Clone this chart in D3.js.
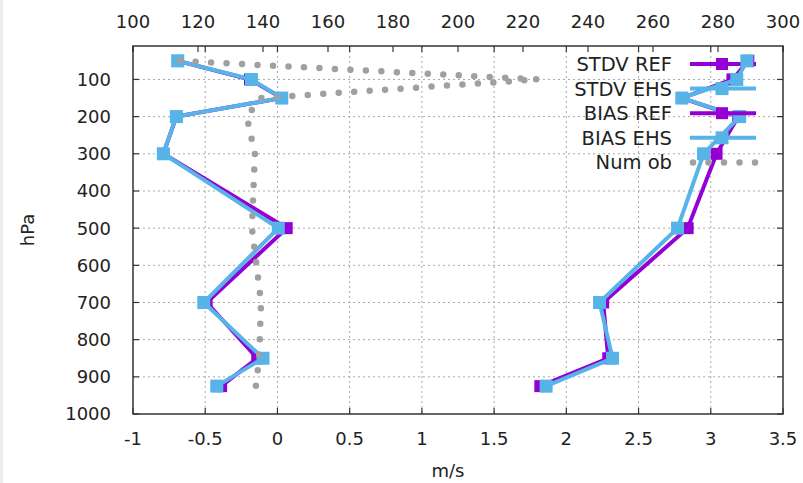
<!DOCTYPE html>
<html>
<head>
<meta charset="utf-8">
<script src="https://cdn.jsdelivr.net/npm/d3@7"></script>
<style>
  body { margin: 0; background: #fff; }
  svg { display: block; }
  text { font-family: "DejaVu Sans", sans-serif; fill: #222; }
</style>
</head>
<body>
<svg id="chart" width="803" height="483"></svg>
<script>
const levels = [50, 100, 150, 200, 300, 500, 700, 850, 925];
const stdvRef = [3.26, 3.15, 2.80, 3.19, 3.04, 2.84, 2.255, 2.29, 1.82];
const stdvEhs = [3.25, 3.18, 2.80, 3.20, 2.95, 2.77, 2.23, 2.32, 1.86];
const biasRef = [-0.69, -0.19, 0.03, -0.70, -0.79, 0.064, -0.49, -0.14, -0.39];
const biasEhs = [-0.69, -0.18, 0.03, -0.70, -0.79, 0.006, -0.51, -0.10, -0.42];
const numOb = [114.5, 224.6, 139.4, 135, 137.5, 136.6, 139.4, 138.8, 137.8];

const xTicks = [-1, -0.5, 0, 0.5, 1, 1.5, 2, 2.5, 3, 3.5];
const x2Ticks = [100, 120, 140, 160, 180, 200, 220, 240, 260, 280, 300];
const yTicks = [100, 200, 300, 400, 500, 600, 700, 800, 900, 1000];

const series = [
  { name: 'STDV REF', values: stdvRef, color: '#9400d3', size: 12 },
  { name: 'STDV EHS', values: stdvEhs, color: '#56b4e9', size: 13 },
  { name: 'BIAS REF', values: biasRef, color: '#9400d3', size: 12 },
  { name: 'BIAS EHS', values: biasEhs, color: '#56b4e9', size: 13 },
];

const svg = d3.select('#chart');
const W = 803, H = 483;
const margin = { top: 46, right: 20, bottom: 69, left: 133 };

svg.append('rect').attr('width', W).attr('height', H).attr('fill', '#fff');
svg.append('rect').attr('width', 3).attr('height', H).attr('fill', '#ebebeb');

const x = d3.scaleLinear().domain([-1, 3.5]).range([margin.left, W - margin.right]);
const x2 = d3.scaleLinear().domain([100, 300]).range([margin.left, W - margin.right]);
const y = d3.scaleLinear().domain([10, 1000]).range([margin.top, H - margin.bottom]);

const x0 = x.range()[0], x1 = x.range()[1];
const y0 = y.range()[0], y1 = y.range()[1];

// grid
const grid = svg.append('g')
  .attr('stroke', '#a8a8a8')
  .attr('stroke-width', 1)
  .attr('stroke-dasharray', '2,3');

grid.selectAll('line.gx')
  .data(xTicks.slice(1, -1))
  .join('line')
  .attr('x1', d => x(d)).attr('x2', d => x(d))
  .attr('y1', y0).attr('y2', y1);

grid.selectAll('line.gy')
  .data(yTicks.slice(0, -1))
  .join('line')
  .attr('class', 'gy')
  .attr('x1', x0).attr('x2', x1)
  .attr('y1', d => y(d)).attr('y2', d => y(d));

// tick marks (inward, mirrored)
const tickLen = 6;
const ticks = svg.append('g').attr('stroke', '#333').attr('stroke-width', 1.2);

xTicks.forEach(v => {
  ticks.append('line').attr('x1', x(v)).attr('x2', x(v)).attr('y1', y1).attr('y2', y1 - tickLen);
  ticks.append('line').attr('x1', x(v)).attr('x2', x(v)).attr('y1', y0).attr('y2', y0 + tickLen);
});
x2Ticks.forEach(v => {
  ticks.append('line').attr('x1', x2(v)).attr('x2', x2(v)).attr('y1', y0).attr('y2', y0 + tickLen);
});
yTicks.forEach(v => {
  ticks.append('line').attr('x1', x0).attr('x2', x0 + tickLen).attr('y1', y(v)).attr('y2', y(v));
  ticks.append('line').attr('x1', x1).attr('x2', x1 - tickLen).attr('y1', y(v)).attr('y2', y(v));
});

// tick labels
const fontSize = 18;
svg.append('g')
  .selectAll('text')
  .data(xTicks)
  .join('text')
  .attr('x', d => x(d))
  .attr('y', y1 + 31)
  .attr('text-anchor', 'middle')
  .attr('font-size', fontSize)
  .text(d => String(d));

svg.append('g')
  .selectAll('text')
  .data(x2Ticks)
  .join('text')
  .attr('x', d => x2(d))
  .attr('y', 28)
  .attr('text-anchor', 'middle')
  .attr('font-size', fontSize)
  .text(d => String(d));

svg.append('g')
  .selectAll('text')
  .data(yTicks)
  .join('text')
  .attr('x', x0 - 22)
  .attr('y', d => y(d))
  .attr('dy', '0.36em')
  .attr('text-anchor', 'end')
  .attr('font-size', fontSize)
  .text(d => String(d));

svg.append('text')
  .attr('transform', `translate(34,${(y0 + y1) / 2}) rotate(-90)`)
  .attr('text-anchor', 'middle')
  .attr('font-size', fontSize)
  .text('hPa');

svg.append('text')
  .attr('x', (x0 + x1) / 2 - 10)
  .attr('y', 477)
  .attr('text-anchor', 'middle')
  .attr('font-size', fontSize)
  .text('m/s');

// frame
svg.append('rect')
  .attr('x', x0).attr('y', y0)
  .attr('width', x1 - x0).attr('height', y1 - y0)
  .attr('fill', 'none')
  .attr('stroke', '#333')
  .attr('stroke-width', 1.5);

// series + key (gnuplot draws each key sample just before its curve)
const key = { textX: 672, x1: 690, x2: 756, y: 64, dy: 24.6 };
const line = d3.line().x(d => d[0]).y(d => d[1]);

series.forEach((s, i) => {
  const ky = key.y + i * key.dy;
  const g = svg.append('g');
  g.append('text')
    .attr('x', key.textX).attr('y', ky).attr('dy', '0.36em')
    .attr('text-anchor', 'end')
    .attr('font-size', 19.5)
    .text(s.name);
  g.append('line')
    .attr('x1', key.x1).attr('x2', key.x2).attr('y1', ky).attr('y2', ky)
    .attr('stroke', s.color).attr('stroke-width', 4);
  g.append('rect')
    .attr('x', (key.x1 + key.x2) / 2 - s.size / 2 - 1)
    .attr('y', ky - s.size / 2)
    .attr('width', s.size).attr('height', s.size)
    .attr('fill', s.color);

  const pts = levels.map((p, j) => [x(s.values[j]), y(p)]);
  g.append('path')
    .attr('d', line(pts))
    .attr('fill', 'none')
    .attr('stroke', s.color)
    .attr('stroke-width', 4)
    .attr('stroke-linejoin', 'miter');
  g.selectAll('rect.pt')
    .data(pts)
    .join('rect')
    .attr('class', 'pt')
    .attr('x', d => d[0] - s.size / 2)
    .attr('y', d => d[1] - s.size / 2)
    .attr('width', s.size).attr('height', s.size)
    .attr('fill', s.color);
});

// Num ob (dotted, on x2 axis)
const ky = key.y + 4 * key.dy;
const gn = svg.append('g');
gn.append('text')
  .attr('x', key.textX).attr('y', ky).attr('dy', '0.36em')
  .attr('text-anchor', 'end')
  .attr('font-size', 19.5)
  .text('Num ob');
const dotStyle = sel => sel
  .attr('fill', 'none')
  .attr('stroke', '#a0a0a0')
  .attr('stroke-width', 6.5)
  .attr('stroke-linecap', 'round')
  .attr('stroke-dasharray', '0,15.5');
gn.append('line')
  .attr('x1', 693).attr('x2', 756).attr('y1', ky).attr('y2', ky)
  .call(dotStyle);
gn.append('path')
  .attr('d', line(levels.map((p, j) => [x2(numOb[j]), y(p)])))
  .call(dotStyle);
</script>
</body>
</html>
